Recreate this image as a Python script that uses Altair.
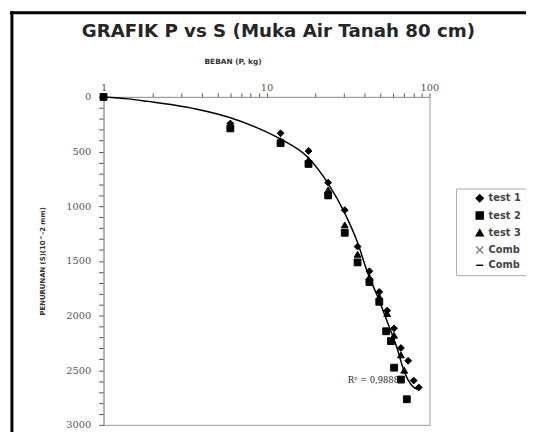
import altair as alt
import pandas as pd

chart_title = "GRAFIK P vs S (Muka Air Tanah 80 cm)"
x_label = "BEBAN (P, kg)"
y_label = "PENURUNAN (S)(10^-2 mm)"
r2_text = ["R² = 0,9888"]
r2_p = [65.0]
r2_s = [2590]

series_names = ["test 1", "test 2", "test 3", "Comb", "Comb "]

test1_p = [1, 6.0, 12.2, 18.1, 23.9, 30.2, 36.2, 42.8, 49.2, 55.0, 60.6, 66.8, 74.0, 80.0, 86.0]
test1_s = [0, 243, 333, 495, 784, 1036, 1369, 1595, 1784, 1955, 2117, 2297, 2414, 2595, 2658]

test2_p = [1, 6.0, 12.2, 18.1, 23.9, 30.2, 36.2, 42.8, 49.2, 54.2, 58.0, 60.6, 66.8, 72.6]
test2_s = [0, 288, 423, 613, 901, 1243, 1514, 1694, 1874, 2144, 2234, 2477, 2586, 2766]

test3_p = [1, 6.0, 12.2, 18.1, 23.9, 30.2, 36.2, 42.8, 49.2, 55.0, 60.6, 66.8, 70.0]
test3_s = [0, 265, 400, 575, 850, 1171, 1440, 1650, 1830, 1982, 2180, 2360, 2500]

fit_p = [1, 1.42, 1.87, 2.65, 3.75, 5.94, 8.64, 11.9, 18.1, 23.9, 30.2, 36.2, 41.6, 47.8, 55.0, 63.2, 69.7, 77.9, 85.9]
fit_s = [0, 18, 41, 72, 113, 189, 279, 378, 559, 793, 1063, 1333, 1604, 1820, 2054, 2297, 2505, 2640, 2680]

x_ticks = [1, 2, 3, 4, 5, 6, 7, 8, 9, 10, 20, 30, 40, 50, 60, 70, 80, 90, 100]
y_ticks = [0, 100, 200, 300, 400, 500, 600, 700, 800, 900, 1000, 1100, 1200, 1300, 1400,
           1500, 1600, 1700, 1800, 1900, 2000, 2100, 2200, 2300, 2400, 2500, 2600, 2700,
           2800, 2900, 3000]

rows = []
for name, ps, ss in [("test 1", test1_p, test1_s), ("test 2", test2_p, test2_s), ("test 3", test3_p, test3_s)]:
    for p, s in zip(ps, ss):
        rows.append({"series": name, "P": p, "S": s})
df_pts = pd.DataFrame(rows)
df_fit = pd.DataFrame({"P": fit_p, "S": fit_s})
df_r2 = pd.DataFrame({"P": r2_p, "S": r2_s, "t": r2_text})

W, H = 331, 333

xscale = alt.Scale(type="log", domain=[1, 100])
yscale = alt.Scale(domain=[0, 3000], reverse=True)

tick_style = dict(ticks=True, tickColor="#555555", tickOpacity=1, tickWidth=1, tickBand="center")

xaxis = alt.Axis(
    orient="top", values=x_ticks,
    labelExpr="(datum.value == 1 || datum.value == 10 || datum.value == 100) ? format(datum.value, 'd') : ''",
    labelFont="DejaVu Serif", labelFontSize=10, labelColor="#555", labelPadding=0,
    labelFlush=False, labelOverlap=False, tickSize=4, domainColor="#999",
    grid=False, title=x_label, titleFont="DejaVu Sans", titleFontSize=7.5, titleFontWeight="bold",
    titleColor="#333", titleX=131, titleY=-36, titleBaseline="middle", titleAlign="center",
    **{k: v for k, v in tick_style.items() if k != "tickBand"},
)
yaxis = alt.Axis(
    orient="left", values=y_ticks,
    labelExpr="datum.value % 500 == 0 ? format(datum.value, 'd') : ''",
    labelFont="DejaVu Serif", labelFontSize=10, labelColor="#555", labelPadding=8,
    labelFlush=False, labelOverlap=False, tickSize=5, domainColor="#999",
    grid=False, title=y_label, titleFont="DejaVu Sans", titleFontSize=7, titleFontWeight="bold",
    titleColor="#333", titleX=-62, titleY=H / 2, titleBaseline="middle", titleAlign="center",
    **{k: v for k, v in tick_style.items() if k != "tickBand"},
)

leg = alt.Legend(
    title=None, orient="none", legendX=358, legendY=93,
    strokeColor="#aaa", fillColor="white", padding=5,
    labelFont="DejaVu Sans", labelFontSize=10, labelFontWeight="bold", labelColor="#444",
    labelOffset=4, rowPadding=3.5, symbolOffset=14, symbolSize=50,
)

shape_range = ["diamond", "square", "triangle-up", "M-1,-1L1,1M-1,1L1,-1", "stroke"]
color_range = ["black", "black", "black", "#808080", "black"]

line = alt.Chart(df_fit).mark_line(color="black", strokeWidth=1.5, interpolate="monotone").encode(
    x=alt.X("P:Q", scale=xscale, axis=xaxis),
    y=alt.Y("S:Q", scale=yscale, axis=yaxis),
)

points = alt.Chart(df_pts).mark_point(filled=True, opacity=1, strokeWidth=1, size=48).encode(
    x=alt.X("P:Q", scale=xscale, axis=xaxis),
    y=alt.Y("S:Q", scale=yscale, axis=yaxis),
    shape=alt.Shape("series:N", scale=alt.Scale(domain=series_names, range=shape_range), legend=leg),
    fill=alt.Fill("series:N", scale=alt.Scale(domain=series_names, range=color_range), legend=leg),
    stroke=alt.Stroke("series:N", scale=alt.Scale(domain=series_names, range=color_range), legend=leg),
)

r2 = alt.Chart(df_r2).mark_text(align="right", baseline="middle", font="DejaVu Serif", fontSize=8.5, color="#222").encode(
    x=alt.X("P:Q", scale=xscale, axis=xaxis),
    y=alt.Y("S:Q", scale=yscale, axis=yaxis),
    text="t:N",
)

frame_left = alt.Chart(df_r2).mark_rule(color="black", strokeWidth=3).encode(
    x=alt.value(-93), y=alt.value(-87), y2=alt.value(H + 10)
)
frame_top = alt.Chart(df_r2).mark_rule(color="black", strokeWidth=3).encode(
    x=alt.value(-95), x2=alt.value(W + 100), y=alt.value(-85.5)
)

chart = alt.layer(line, points, frame_left, frame_top, r2).properties(
    width=W, height=H,
    title=alt.TitleParams(text=chart_title, font="DejaVu Sans", fontSize=18.5, fontWeight="bold",
                          color="#262626", anchor="middle", frame="group", dx=12, offset=-31),
    autosize=alt.AutoSizeParams(type="none"),
    padding={"left": 97, "top": 87, "right": 98, "bottom": 4},
).configure_view(stroke="#999").configure_axis(ticks=True, tickColor="#555555", tickOpacity=1)

chart.save("out.html", embed_options={"renderer": "svg", "actions": False})
